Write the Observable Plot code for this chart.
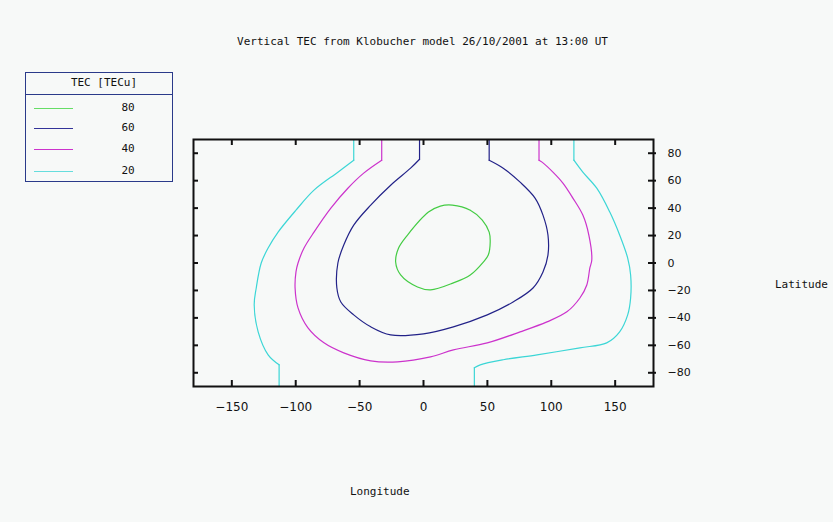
<!DOCTYPE html>
<html>
<head>
<meta charset="utf-8">
<script src="https://cdn.jsdelivr.net/npm/d3@7"></script>
<script src="https://cdn.jsdelivr.net/npm/@observablehq/plot@0.6"></script>
<style>
  html, body { margin: 0; padding: 0; background: #f7f9f8; }
  #wrap { position: relative; width: 833px; height: 522px; background: #f7f9f8; overflow: hidden;
          font-family: "DejaVu Sans Mono", monospace; font-size: 11px; color: #111; }
  .abs { position: absolute; white-space: nowrap; }
  #legend { position: absolute; left: 25px; top: 72px; width: 146px; height: 108px;
            border: 1px solid #2a3a8a; background: #f7f9f8; }
  #legend .hdr { position: absolute; left: 0; top: 0; width: 146px; height: 22px; line-height: 20px;
                 text-align: center; border-bottom: 1px solid #2a3a8a; padding-left: 10px; box-sizing: border-box; }
  #legend .row { position: absolute; left: 0; width: 146px; height: 14px; }
  #legend .row .sw { position: absolute; left: 8px; top: 7px; width: 39px; height: 0; border-top: 1.3px solid; }
  #legend .row .lb { position: absolute; left: 90px; width: 24px; text-align: center; line-height: 14px; }
</style>
</head>
<body>
<div id="wrap">
  <div id="chart" class="abs" style="left:0;top:0"></div>
  <div id="title" class="abs" style="left:0;width:845px;top:35px;text-align:center;"></div>
  <div id="legend"></div>
  <div id="xlabel" class="abs" style="left:350px;top:485px;"></div>
  <div id="ylabel" class="abs" style="left:775px;top:278px;"></div>
</div>
<script>
// ---- text ----
const titleText = "Vertical TEC from Klobucher model 26/10/2001 at 13:00 UT";
const xLabel = "Longitude";
const yLabel = "Latitude";
const legendTitle = "TEC [TECu]";
const levels = [80, 60, 40, 20];
const levelColors = ["#44cc44", "#222288", "#cc33cc", "#3cd6d6"];
const legendColors = ["#66dd66", "#333399", "#cc33cc", "#66dddd"];
const xTicks = [-150, -100, -50, 0, 50, 100, 150];
const yTicks = [80, 60, 40, 20, 0, -20, -40, -60, -80];

// ---- contour lines [longitude, latitude] ----
const tec80 = [[22.6,42.2],[36.6,38.5],[46.0,31.3],[51.4,22.5],[52.2,15.3],[50.7,5.8],[46.8,0.7],[36.6,-8.7],[23.4,-14.5],[5.5,-19.6],[-4.7,-17.5],[-17.9,-8.7],[-21.8,0.7],[-19.5,10.9],[-12.5,20.4],[3.9,37.1],[13.2,41.5]];
const tec60 = [[-3.1,90],[-3.1,75.6],[-10.1,69.1],[-25.7,56.7],[-41.3,42.2],[-54.6,27.6],[-62.4,13.1],[-67.0,0],[-67.8,-18.2],[-64.7,-28.4],[-54.6,-37.8],[-41.3,-46.5],[-25.7,-52.4],[0,-51.6],[23.4,-46.5],[49.9,-37.8],[70.1,-28.4],[85.7,-18.2],[93.5,-6.5],[97.4,5.8],[97.4,20.4],[93.5,34.9],[87.3,47.3],[75.6,58.9],[62.4,69.1],[51.4,74.9],[51.4,90]];
const tec40 = [[-32.7,90],[-32.7,74.9],[-46.8,65.5],[-59.2,54.5],[-72.5,40.0],[-85.7,22.5],[-93.5,10.9],[-98.2,0],[-99.8,-6.5],[-100.5,-18.2],[-98.2,-32.7],[-90.4,-47.3],[-77.9,-58.2],[-62.4,-65.5],[-41.3,-71.3],[-20.3,-72.0],[5.5,-68.4],[23.4,-63.3],[49.9,-58.2],[75.6,-50.2],[96.6,-42.9],[112.2,-35.6],[122.4,-25.5],[127.8,-16.0],[130.2,-3.6],[131.7,2.2],[129.4,20.4],[124.7,34.9],[116.9,47.3],[109.1,58.2],[101.3,66.2],[92.8,73.5],[90.4,74.9],[90.4,90]];
const tec20West = [[-54.6,90],[-54.6,74.9],[-67.0,66.2],[-85.7,53.1],[-99.8,38.5],[-113.8,22.5],[-121.6,10.9],[-127.0,0],[-130.9,-18.2],[-132.5,-30.5],[-129.4,-50.2],[-121.6,-66.9],[-113.0,-74.2],[-113.0,-90]];
const tec20East = [[117.7,90],[117.7,74.9],[124.7,66.2],[135.6,54.5],[145.8,37.1],[153.5,20.4],[159.8,3.6],[162.1,-8.7],[162.1,-25.5],[159.8,-37.8],[153.5,-50.2],[143.4,-58.2],[122.4,-61.8],[88.9,-66.9],[62.4,-70.5],[44.4,-74.2],[39.8,-76.4],[39.8,-90]];

// open contours: straight vertical stub at the top (first 2 points), smooth body, straight stub at bottom for 20 TECu
const openLines = [
  {data: tec60, color: levelColors[1], stubStart: 2, stubEnd: 2},
  {data: tec40, color: levelColors[2], stubStart: 2, stubEnd: 2},
  {data: tec20West, color: levelColors[3], stubStart: 2, stubEnd: 2},
  {data: tec20East, color: levelColors[3], stubStart: 2, stubEnd: 2}
];

const W = 833, H = 522;
const mL = 193, mR = 180, mT = 139, mB = 136;
const fw = W - mL - mR, fh = H - mT - mB;
const lineOpts = (color, curve) => ({x: d => d[0], y: d => d[1], stroke: color, strokeWidth: 1.2, curve});

const lineMarks = [];
for (const l of openLines) {
  const n = l.data.length;
  lineMarks.push(Plot.line(l.data.slice(0, l.stubStart), lineOpts(l.color, "linear")));
  lineMarks.push(Plot.line(l.data.slice(l.stubStart - 1, n - l.stubEnd + 1), lineOpts(l.color, "catmull-rom")));
  lineMarks.push(Plot.line(l.data.slice(n - l.stubEnd), lineOpts(l.color, "linear")));
}
lineMarks.push(Plot.line(tec80, lineOpts(levelColors[0], "catmull-rom-closed")));

const chart = Plot.plot({
  width: W, height: H,
  marginLeft: mL, marginRight: mR, marginTop: mT, marginBottom: mB,
  x: {domain: [-180, 180]},
  y: {domain: [-90, 90]},
  style: {background: "transparent", fontFamily: "DejaVu Sans", fontSize: "11px", color: "#111"},
  marks: [
    ...lineMarks,
    Plot.frame({stroke: "#111", strokeWidth: 2}),
    Plot.tickX(xTicks, {x: d => d, stroke: "#111", strokeWidth: 2, insetTop: fh - 6}),
    Plot.tickX(xTicks, {x: d => d, stroke: "#111", strokeWidth: 2, insetBottom: fh - 6}),
    Plot.tickY(yTicks, {y: d => d, stroke: "#111", strokeWidth: 2, insetRight: fw - 5}),
    Plot.tickY(yTicks, {y: d => d, stroke: "#111", strokeWidth: 2, insetLeft: fw - 5, insetRight: -3}),
    Plot.axisX({ticks: xTicks, tickSize: 0, tickPadding: 16, label: null, fontSize: 12}),
    Plot.axisY({anchor: "right", ticks: yTicks, tickSize: 0, tickPadding: 14, label: null, fontSize: 11})
  ]
});
document.getElementById("chart").appendChild(chart);

document.getElementById("title").textContent = titleText;
document.getElementById("xlabel").textContent = xLabel;
document.getElementById("ylabel").textContent = yLabel;

const legend = document.getElementById("legend");
const hdr = document.createElement("div");
hdr.className = "hdr";
hdr.textContent = legendTitle;
legend.appendChild(hdr);
const rowTops = [28, 48, 69, 91];
levels.forEach((v, i) => {
  const row = document.createElement("div");
  row.className = "row";
  row.style.top = rowTops[i] + "px";
  const sw = document.createElement("div");
  sw.className = "sw";
  sw.style.borderTopColor = legendColors[i];
  const lb = document.createElement("div");
  lb.className = "lb";
  lb.textContent = String(v);
  row.appendChild(sw);
  row.appendChild(lb);
  legend.appendChild(row);
});
</script>
</body>
</html>
